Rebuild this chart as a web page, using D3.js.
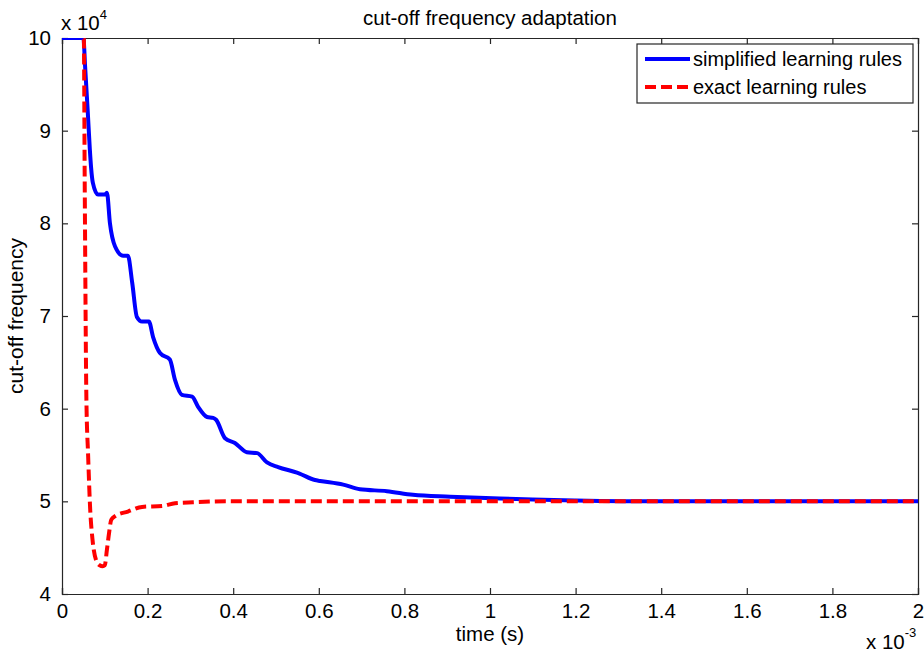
<!DOCTYPE html>
<html>
<head>
<meta charset="utf-8">
<script src="https://cdn.jsdelivr.net/npm/d3@7"></script>
<style>
  html, body { margin: 0; padding: 0; background: #fff; }
  svg { display: block; font-family: "Liberation Sans", Arial, Helvetica, sans-serif; }
</style>
</head>
<body>
<svg id="chart" width="924" height="654"></svg>
<script>
// ---- data (time in units of 1e-3 s, frequency in units of 1e4) ----
const blueTime = [0, 0.05, 0.054, 0.06, 0.065, 0.068, 0.072, 0.084, 0.1, 0.105, 0.112, 0.124, 0.143, 0.154, 0.164, 0.175, 0.187, 0.203, 0.213, 0.229, 0.252, 0.264, 0.28, 0.304, 0.318, 0.339, 0.353, 0.36, 0.381, 0.404, 0.432, 0.456, 0.479, 0.505, 0.549, 0.555, 0.591, 0.603, 0.657, 0.696, 0.759, 0.82, 0.907, 1.023, 1.1, 1.2, 1.4, 1.6, 2.0];
const blueValue = [10, 10, 9.69, 9.22, 8.8, 8.6, 8.44, 8.31, 8.31, 8.33, 8.0, 7.75, 7.65, 7.65, 7.36, 6.99, 6.94, 6.94, 6.77, 6.6, 6.53, 6.31, 6.15, 6.13, 6.02, 5.91, 5.9, 5.88, 5.68, 5.63, 5.53, 5.52, 5.42, 5.37, 5.31, 5.3, 5.23, 5.22, 5.18, 5.13, 5.11, 5.07, 5.05, 5.03, 5.02, 5.01, 5.0, 5.0, 5.0];
const redTime = [0.05, 0.051, 0.053, 0.057, 0.061, 0.066, 0.071, 0.08, 0.088, 0.095, 0.1, 0.105, 0.11, 0.115, 0.124, 0.154, 0.187, 0.234, 0.264, 0.306, 0.386, 0.5, 1.0, 2.0];
const redValue = [10, 10, 8.5, 6.1, 5.5, 4.9, 4.6, 4.36, 4.31, 4.3, 4.31, 4.48, 4.66, 4.8, 4.84, 4.89, 4.94, 4.95, 4.98, 4.99, 5.0, 5.0, 5.0, 5.0];
const xTicks = [0, 0.2, 0.4, 0.6, 0.8, 1, 1.2, 1.4, 1.6, 1.8, 2];
const xTickLabels = ["0", "0.2", "0.4", "0.6", "0.8", "1", "1.2", "1.4", "1.6", "1.8", "2"];
const yTicks = [4, 5, 6, 7, 8, 9, 10];
const yTickLabels = ["4", "5", "6", "7", "8", "9", "10"];
const seriesNames = ["simplified learning rules", "exact learning rules"];
const seriesColors = ["#0000ff", "#ff0000"];

// ---- layout ----
const W = 924, H = 654;
const m = { left: 62, top: 38, right: 6, bottom: 60 };
const iw = W - m.left - m.right, ih = H - m.top - m.bottom;
const svg = d3.select("#chart");
const x = d3.scaleLinear().domain([0, 2]).range([0, iw]);
const y = d3.scaleLinear().domain([4, 10]).range([ih, 0]);
const g = svg.append("g").attr("transform", `translate(${m.left},${m.top})`);

g.append("clipPath").attr("id", "clip").append("rect")
  .attr("x", 0).attr("y", 0).attr("width", iw).attr("height", ih);

const tickLen = 6, axisColor = "#262626", fs = 20.5;

// axes (ticks inward, box on all four sides)
const xb = g.append("g").attr("transform", `translate(0,${ih})`)
  .call(d3.axisBottom(x).tickValues(xTicks).tickSize(-tickLen).tickPadding(9)
    .tickFormat((d, i) => xTickLabels[i]));
const xt = g.append("g")
  .call(d3.axisTop(x).tickValues(xTicks).tickSize(-tickLen).tickFormat(""));
const yl = g.append("g")
  .call(d3.axisLeft(y).tickValues(yTicks).tickSize(-tickLen).tickPadding(11)
    .tickFormat((d, i) => yTickLabels[i]));
const yr = g.append("g").attr("transform", `translate(${iw},0)`)
  .call(d3.axisRight(y).tickValues(yTicks).tickSize(-tickLen).tickFormat(""));
[xb, xt, yl, yr].forEach(a => {
  a.select(".domain").attr("stroke", axisColor).attr("stroke-width", 1.2);
  a.selectAll(".tick line").attr("stroke", axisColor).attr("stroke-width", 1.2);
  a.selectAll(".tick text").attr("fill", "#000").attr("font-size", fs)
    .attr("font-family", '"Liberation Sans", Arial, sans-serif');
});

// lines
const blueData = blueTime.map((t, i) => [t, blueValue[i]]);
const redData = redTime.map((t, i) => [t, redValue[i]]);
const line = d3.line().x(d => x(d[0])).y(d => y(d[1])).curve(d3.curveMonotoneX);
const plot = g.append("g").attr("clip-path", "url(#clip)");
plot.append("path").datum(blueData).attr("d", line)
  .attr("fill", "none").attr("stroke", seriesColors[0]).attr("stroke-width", 4)
  .attr("stroke-linejoin", "round");
plot.append("path").datum(redData).attr("d", line)
  .attr("fill", "none").attr("stroke", seriesColors[1]).attr("stroke-width", 4)
  .attr("stroke-dasharray", "11,5");

// title and labels
svg.append("text").attr("x", m.left + iw / 2).attr("y", 25).attr("text-anchor", "middle")
  .attr("font-size", 20.5).text("cut-off frequency adaptation");
svg.append("text").attr("x", m.left + iw / 2).attr("y", 641).attr("text-anchor", "middle")
  .attr("font-size", 20.5).text("time (s)");
svg.append("text").attr("transform", `translate(23,${m.top + ih / 2}) rotate(-90)`)
  .attr("text-anchor", "middle").attr("font-size", 21).text("cut-off frequency");

// exponent labels
const e1 = svg.append("text").attr("x", 61).attr("y", 30).attr("font-size", 20.5);
e1.append("tspan").text("x 10");
e1.append("tspan").attr("font-size", 13).attr("dy", -11).text("4");
const e2 = svg.append("text").attr("x", 866).attr("y", 649).attr("font-size", 20.5);
e2.append("tspan").text("x 10");
e2.append("tspan").attr("font-size", 13).attr("dy", -12).text("-3");

// legend
const lg = svg.append("g");
lg.append("rect").attr("x", 637).attr("y", 44).attr("width", 276).attr("height", 59)
  .attr("fill", "#fff").attr("stroke", axisColor).attr("stroke-width", 1.2);
seriesNames.forEach((name, i) => {
  const yy = 59 + i * 28;
  lg.append("line").attr("x1", 645).attr("x2", 690).attr("y1", yy).attr("y2", yy)
    .attr("stroke", seriesColors[i]).attr("stroke-width", 4)
    .attr("stroke-dasharray", i === 1 ? "11,5" : null);
  lg.append("text").attr("x", 693).attr("y", yy + 7).attr("font-size", 20).text(name);
});
</script>
</body>
</html>
